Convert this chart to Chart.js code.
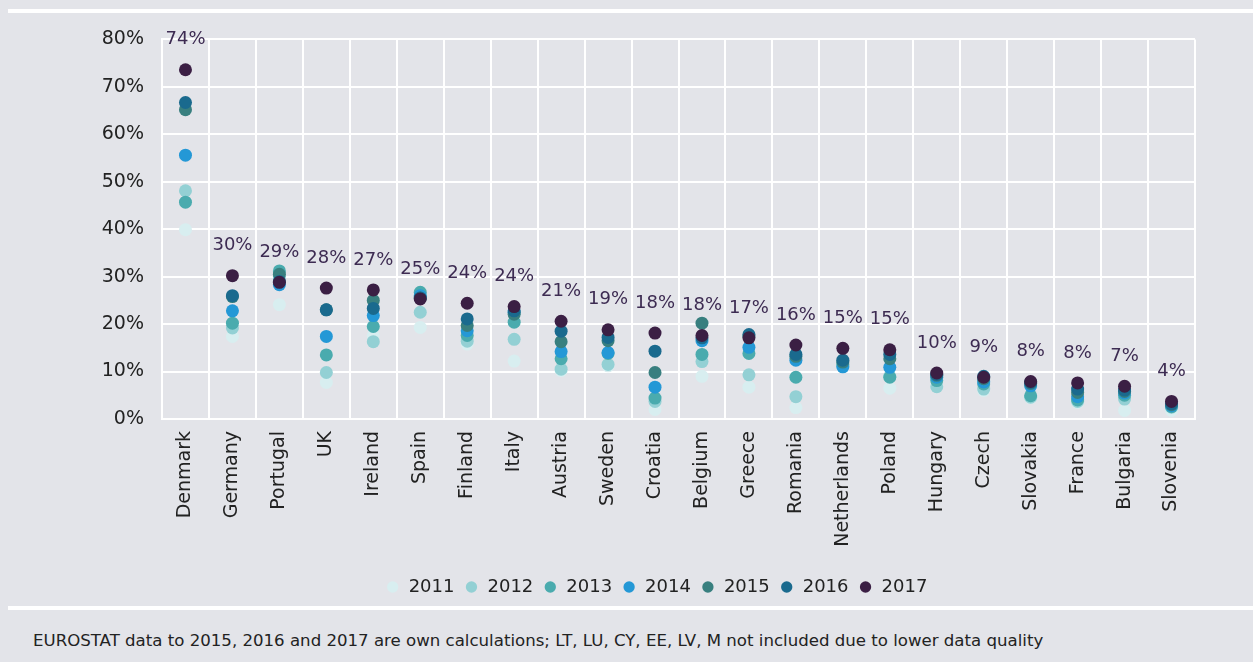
<!DOCTYPE html>
<html>
<head>
<meta charset="utf-8">
<script src="https://cdn.jsdelivr.net/npm/chart.js@4.4.1/dist/chart.umd.min.js"></script>
<style>
  html, body { margin: 0; padding: 0; }
  body { width: 1253px; height: 662px; background: #e3e4e9; position: relative; overflow: hidden; font-family: "DejaVu Sans", sans-serif; }
  .sep { position: absolute; left: 8px; right: 0; height: 4px; background: #ffffff; }
  #wrap { position: absolute; left: 8px; top: 10px; width: 1245px; height: 596px; }
  #note { position: absolute; left: 33px; top: 631px; font-size: 16.6px; color: #222; white-space: nowrap; }
</style>
</head>
<body>
<div class="sep" style="top:9px"></div>
<div class="sep" style="top:606px"></div>
<div id="wrap"><canvas id="c" width="1245" height="596"></canvas></div>
<div id="note">EUROSTAT data to 2015, 2016 and 2017 are own calculations; LT, LU, CY, EE, LV, M not included due to lower data quality</div>
<script>
const categories = ["Denmark","Germany","Portugal","UK","Ireland","Spain","Finland","Italy","Austria","Sweden","Croatia","Belgium","Greece","Romania","Netherlands","Poland","Hungary","Czech","Slovakia","France","Bulgaria","Slovenia"];
const years = ["2011","2012","2013","2014","2015","2016","2017"];
const v2011 = [39.9,17.4,24.1,7.7,17.6,19.3,15.8,12.2,10.2,11.2,2.0,9.0,6.7,2.4,11.0,6.5,7.0,6.0,4.5,3.5,1.8,1.8];
const v2012 = [48.1,19.2,30.0,9.8,16.3,22.5,16.4,16.8,10.5,11.5,3.7,12.1,9.3,4.7,11.2,9.0,6.8,6.3,4.6,3.7,4.2,2.5];
const v2013 = [45.7,20.2,31.2,13.5,19.5,26.7,17.6,20.4,12.7,13.8,4.4,13.6,13.8,8.8,11.5,8.8,8.1,7.4,4.9,4.0,5.0,2.6];
const v2014 = [55.6,22.8,28.3,17.4,21.8,26.0,18.6,22.5,14.2,14.0,6.7,16.5,15.1,12.4,11.0,10.9,8.8,7.8,7.0,4.7,5.5,2.8];
const v2015 = [65.2,25.8,30.5,23.0,25.0,25.5,19.7,22.1,16.3,16.5,9.8,20.2,17.5,13.2,12.0,12.7,9.2,8.5,7.5,5.6,5.8,3.0];
const v2016 = [66.7,26.0,29.0,23.0,23.3,25.5,21.1,22.8,18.5,17.2,14.3,17.1,17.8,13.6,12.4,13.6,9.4,9.0,7.7,6.3,6.1,3.2];
const v2017 = [73.6,30.2,28.8,27.6,27.2,25.3,24.4,23.7,20.6,18.8,18.1,17.6,17.1,15.6,14.9,14.6,9.7,8.8,7.9,7.6,6.9,3.7];
const yTicks = [0,10,20,30,40,50,60,70,80];
const colors = ["#d8eef0","#93d0d4","#4aabae","#2498d6","#387f7f","#1a6a8e","#3b1f44"];
const seriesValues = [v2011,v2012,v2013,v2014,v2015,v2016,v2017];

const FONT = "DejaVu Sans";

const labelPlugin = {
  id: 'topLabels',
  afterDatasetsDraw(chart) {
    const ctx = chart.ctx;
    const meta = chart.getDatasetMeta(6);
    ctx.save();
    ctx.font = `18px "${FONT}"`;
    ctx.fillStyle = "#3d2b52";
    ctx.textAlign = "center";
    ctx.textBaseline = "middle";
    meta.data.forEach((pt, i) => {
      ctx.fillText(Math.round(v2017[i]) + "%", pt.x, pt.y - 30);
    });
    ctx.restore();
  }
};

const legendShift = {
  id: 'legendShift',
  afterUpdate(chart) {
    const lg = chart.legend;
    if (!lg) return;
    const dx = 55;
    lg.left += dx; lg.right += dx;
    if (typeof lg.adjustHitBoxes === 'function') lg.adjustHitBoxes();
  }
};

new Chart(document.getElementById('c'), {
  type: 'line',
  data: {
    labels: categories,
    datasets: seriesValues.map((vals, i) => ({
      label: years[i],
      data: vals,
      showLine: false,
      backgroundColor: colors[i],
      borderColor: colors[i],
      borderWidth: 0,
      pointRadius: 6.5,
      pointHoverRadius: 6.5,
      pointStyle: 'circle',
      order: 6 - i
    }))
  },
  options: {
    responsive: false,
    animation: false,
    layout: { padding: { left: 0, right: 58, top: 15, bottom: 0 } },
    plugins: {
      legend: {
        position: 'bottom',
        labels: {
          usePointStyle: true,
          pointStyle: 'circle',
          boxWidth: 14,
          boxHeight: 8,
          padding: 10,
          color: "#222",
          font: { family: FONT, size: 18 },
          sort: (a, b) => a.datasetIndex - b.datasetIndex
        }
      },
      tooltip: { enabled: false }
    },
    scales: {
      x: {
        offset: true,
        grid: { color: "#ffffff", lineWidth: 2, offset: true, drawTicks: false },
        border: { color: "#ffffff", width: 2 },
        ticks: { color: "#222", font: { family: FONT, size: 19 }, minRotation: 90, maxRotation: 90, padding: 12, autoSkip: false },
        afterFit(s) { s.height = 149; }
      },
      y: {
        min: 0, max: 80,
        afterBuildTicks(s) { s.ticks = yTicks.map(v => ({ value: v })); },
        grid: { color: "#ffffff", lineWidth: 2, drawTicks: false },
        border: { color: "#ffffff", width: 2 },
        ticks: { color: "#222", font: { family: FONT, size: 19 }, padding: 18, callback: v => v + "%" },
        afterFit(s) { s.width = 154; }
      }
    }
  },
  plugins: [labelPlugin, legendShift]
});
</script>
</body>
</html>
